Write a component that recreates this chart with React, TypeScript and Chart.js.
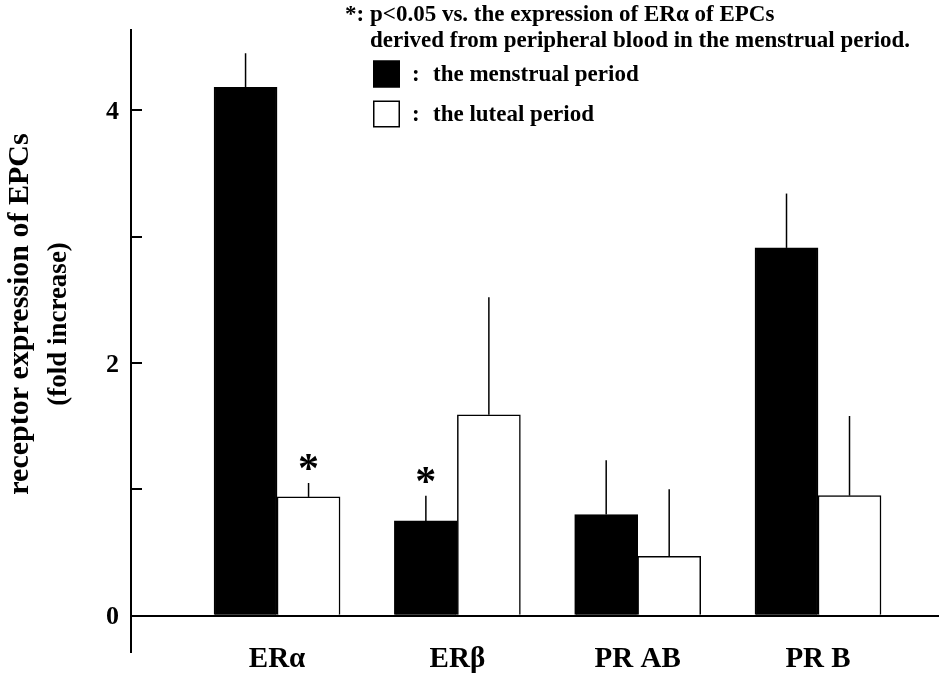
import React, { useEffect, useRef } from 'react';
import { Chart, registerables } from 'chart.js';

Chart.register(...registerables);

const categories = ['ERα', 'ERβ', 'PR AB', 'PR B'];
const menstrualMeans = [4.18, 0.75, 0.8, 2.91];
const menstrualSEM = [0.27, 0.2, 0.43, 0.43];
const lutealMeans = [0.94, 1.59, 0.47, 0.95];
const lutealSEM = [0.11, 0.93, 0.53, 0.63];
const menstrualSig = [false, true, false, false];
const lutealSig = [true, false, false, false];
const yTickValues = [0, 1, 2, 3, 4];
const yTickLabels = ['0', '', '2', '', '4'];
const seriesLabels = ['the menstrual period', 'the luteal period'];
const seriesColors = ['#000000', '#ffffff'];
const noteMark = '*: ';
const noteLines = [
  'p<0.05 vs. the expression of ERα of EPCs',
  'derived from peripheral blood in the menstrual period.',
];
const yTitleLines = ['receptor expression of EPCs', '(fold increase)'];

const FONT = '"Liberation Serif", "Times New Roman", serif';

const errors = [menstrualSEM, lutealSEM];
const sigs = [menstrualSig, lutealSig];

const errorBarPlugin = {
  id: 'errorBars',
  afterDatasetsDraw(chart: any) {
    const ctx = chart.ctx;
    const yScale = chart.scales.y;
    chart.data.datasets.forEach((ds: any, di: number) => {
      const meta = chart.getDatasetMeta(di);
      meta.data.forEach((bar: any, i: number) => {
        const top = ds.data[i].y + errors[di][i];
        const py = yScale.getPixelForValue(top);
        ctx.save();
        ctx.strokeStyle = '#000';
        ctx.lineWidth = 1.5;
        ctx.beginPath();
        ctx.moveTo(bar.x, bar.y);
        ctx.lineTo(bar.x, py);
        ctx.stroke();
        if (sigs[di][i]) {
          ctx.font = `bold 42px ${FONT}`;
          ctx.fillStyle = '#000';
          ctx.textAlign = 'left';
          ctx.textBaseline = 'alphabetic';
          const m = ctx.measureText('*');
          const cy = py - 21;
          const base = cy + (m.actualBoundingBoxAscent - m.actualBoundingBoxDescent) / 2;
          const x = bar.x - (m.actualBoundingBoxRight - m.actualBoundingBoxLeft) / 2;
          ctx.fillText('*', x, base);
        }
        ctx.restore();
      });
    });
  },
};

const annotationPlugin = {
  id: 'annotations',
  afterDraw(chart: any) {
    const ctx = chart.ctx;
    ctx.save();
    ctx.fillStyle = '#000';
    // category labels placed through the x scale
    const xScale = chart.scales.x;
    ctx.font = `bold 29px ${FONT}`;
    ctx.textAlign = 'center';
    ctx.textBaseline = 'alphabetic';
    categories.forEach((c, i) => {
      ctx.fillText(c, xScale.getPixelForValue(i), 667);
    });
    // note
    ctx.font = `bold 23px ${FONT}`;
    ctx.textAlign = 'right';
    ctx.fillText(noteMark, 370, 21);
    ctx.textAlign = 'left';
    ctx.fillText(noteLines[0], 370, 21);
    ctx.fillText(noteLines[1], 370, 47);
    // legend
    const rows = [74, 114];
    chart.data.datasets.forEach((ds: any, di: number) => {
      const cy = rows[di];
      ctx.fillStyle = ds.backgroundColor;
      ctx.fillRect(373, cy - 13.5, 27, 27);
      ctx.strokeStyle = '#000';
      ctx.lineWidth = 1.5;
      ctx.strokeRect(373.75, cy - 12.75, 25.5, 25.5);
      ctx.fillStyle = '#000';
      ctx.font = `bold 23px ${FONT}`;
      ctx.fillText(':', 412, cy + 7);
      ctx.fillText(ds.label, 433, cy + 7);
    });
    // y title
    const titlePos = [
      { x: 28, y: 314, size: 30 },
      { x: 66, y: 324, size: 27 },
    ];
    yTitleLines.forEach((t, i) => {
      const p = titlePos[i];
      ctx.save();
      ctx.translate(p.x, p.y);
      ctx.rotate(-Math.PI / 2);
      ctx.font = `bold ${p.size}px ${FONT}`;
      ctx.textAlign = 'center';
      ctx.textBaseline = 'alphabetic';
      ctx.fillStyle = '#000';
      ctx.fillText(t, 0, 0);
      ctx.restore();
    });
    ctx.restore();
  },
};

export default function App() {
  const ref = useRef<HTMLCanvasElement | null>(null);
  useEffect(() => {
    if (!ref.current) return;
    const chart = new Chart(ref.current, {
      type: 'bar',
      data: {
        datasets: [
          {
            label: seriesLabels[0],
            data: menstrualMeans.map((v, i) => ({ x: i, y: v })),
            backgroundColor: seriesColors[0],
            borderColor: '#000',
            borderWidth: 1.5,
            barThickness: 63,
          },
          {
            label: seriesLabels[1],
            data: lutealMeans.map((v, i) => ({ x: i, y: v })),
            backgroundColor: seriesColors[1],
            borderColor: '#000',
            borderWidth: 1.5,
            barThickness: 63,
          },
        ],
      },
      options: {
        responsive: false,
        animation: false,
        devicePixelRatio: 1,
        layout: { padding: { top: 30, right: 1, left: 0, bottom: 0 } },
        plugins: {
          legend: { display: false },
          tooltip: { enabled: false },
          title: { display: false },
        },
        scales: {
          x: {
            type: 'linear',
            min: -0.81,
            max: 3.671,
            offset: false,
            grid: { display: false },
            border: { display: false },
            afterBuildTicks: (s: any) => {
              s.ticks = categories.map((_, i) => ({ value: i }));
            },
            afterFit: (s: any) => {
              s.height = 25;
              s.paddingLeft = 0;
              s.paddingRight = 0;
              s.paddingTop = 0;
              s.paddingBottom = 0;
            },
            ticks: { display: false },
          },
          y: {
            type: 'linear',
            min: -0.287,
            max: 4.634,
            afterBuildTicks: (s: any) => {
              s.ticks = yTickValues.map((v) => ({ value: v }));
            },
            afterFit: (s: any) => {
              s.width = 131;
              s.paddingTop = 0;
              s.paddingBottom = 0;
              s.paddingLeft = 0;
              s.paddingRight = 0;
            },
            border: { display: true, color: '#000', width: 2 },
            grid: {
              drawOnChartArea: true,
              color: (c: any) => (c.tick && c.tick.value === 0 ? '#000' : 'rgba(0,0,0,0)'),
              lineWidth: 2,
              tickColor: '#000',
              tickWidth: 2,
              tickLength: -11,
              drawTicks: true,
            },
            ticks: {
              padding: 23,
              labelOffset: 2,
              color: '#000',
              font: { family: FONT, size: 26, weight: 'bold' },
              callback: (v: any) => {
                const k = yTickValues.indexOf(v);
                return k >= 0 ? yTickLabels[k] : '';
              },
            },
          },
        },
      } as any,
      plugins: [errorBarPlugin, annotationPlugin],
    });
    return () => chart.destroy();
  }, []);
  return (
    <div style={{ position: 'fixed', left: 0, top: 0, width: 940, height: 677, background: '#fff' }}>
      <canvas ref={ref} width={940} height={677} style={{ display: 'block' }} />
    </div>
  );
}
